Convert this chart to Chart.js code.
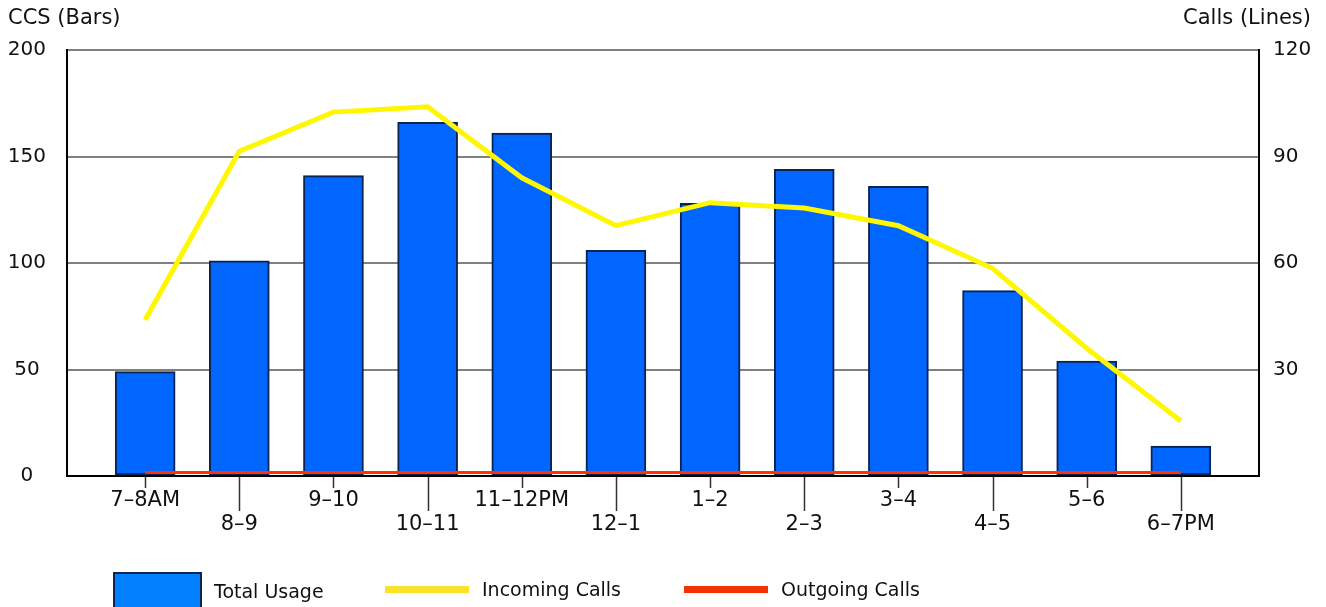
<!DOCTYPE html>
<html>
<head>
<meta charset="utf-8">
<script src="https://cdn.jsdelivr.net/npm/chart.js@4/dist/chart.umd.min.js"></script>
<style>
  html, body { margin: 0; padding: 0; background: #fff; }
  #wrap { width: 1326px; height: 607px; }
</style>
</head>
<body>
<div id="wrap"><canvas id="chart" width="1326" height="607"></canvas></div>
<script>
// Data
const categories = ['7\u20138AM', '8\u20139', '9\u201310', '10\u201311', '11\u201312PM', '12\u20131',
  '1\u20132', '2\u20133', '3\u20134', '4\u20135', '5\u20136', '6\u20137PM'];
const totalUsage = [49, 101, 141, 166, 161, 106, 128, 144, 136, 87, 54, 14];
const incomingCalls = [44, 91.5, 102.5, 104, 84, 70.5, 77, 75.5, 70.5, 58.5, 36, 15.5];
const outgoingCalls = [1, 1, 1, 1, 1, 1, 1, 1, 1, 1, 1, 1];
const ccsTicks = [0, 50, 100, 150, 200];
const callTicks = [0, 30, 60, 90, 120];

const toPoints = arr => arr.map((v, i) => ({ x: i, y: v }));

const FONT = '"DejaVu Sans", Verdana, sans-serif';
Chart.defaults.font.family = FONT;
Chart.defaults.font.size = 19;
Chart.defaults.color = '#111';

// axis titles, long/short ticks under the x axis, legend
const extras = {
  id: 'extras',
  afterDraw(chart) {
    const ctx = chart.ctx;
    const area = chart.chartArea;
    const x = chart.scales.x;
    ctx.save();

    // tick marks
    ctx.strokeStyle = '#333';
    ctx.lineWidth = 1.5;
    categories.forEach((c, i) => {
      const px = Math.round(x.getPixelForValue(i)) + 0.5;
      ctx.beginPath();
      ctx.moveTo(px, area.bottom + 1);
      ctx.lineTo(px, area.bottom + (i % 2 ? 35 : 12));
      ctx.stroke();
    });

    // axis titles
    ctx.fillStyle = '#111';
    ctx.font = '21px ' + FONT;
    ctx.textBaseline = 'middle';
    ctx.textAlign = 'left';
    ctx.fillText('CCS (Bars)', 8, 19);
    ctx.textAlign = 'right';
    ctx.fillText('Calls (Lines)', 1311, 19);

    // legend
    const byLabel = l => chart.data.datasets.find(d => d.label === l);
    ctx.font = '19px ' + FONT;
    ctx.textAlign = 'left';
    ctx.fillStyle = '#0080ff';
    ctx.fillRect(114, 573, 87, 40);
    ctx.strokeStyle = '#0b2550';
    ctx.lineWidth = 2;
    ctx.strokeRect(114, 573, 87, 40);
    ctx.fillStyle = '#111';
    ctx.fillText(byLabel('Total Usage').label, 214, 593);

    ctx.fillStyle = '#fbe427';
    ctx.fillRect(385, 586, 84, 7);
    ctx.fillStyle = '#111';
    ctx.fillText(byLabel('Incoming Calls').label, 482, 591);

    ctx.fillStyle = '#f53100';
    ctx.fillRect(684, 586, 84, 7);
    ctx.fillStyle = '#111';
    ctx.fillText(byLabel('Outgoing Calls').label, 781, 591);

    ctx.restore();
  }
};

const ctx = document.getElementById('chart').getContext('2d');
new Chart(ctx, {
  type: 'bar',
  data: {
    datasets: [
      {
        type: 'bar',
        label: 'Total Usage',
        data: toPoints(totalUsage),
        yAxisID: 'y',
        backgroundColor: '#0066ff',
        borderColor: '#0a2350',
        borderWidth: 2,
        borderSkipped: false,
        barThickness: 60,
        order: 3
      },
      {
        type: 'line',
        label: 'Incoming Calls',
        data: toPoints(incomingCalls),
        yAxisID: 'y1',
        borderColor: '#fff700',
        borderWidth: 5,
        pointRadius: 0,
        tension: 0,
        order: 1
      },
      {
        type: 'line',
        label: 'Outgoing Calls',
        data: toPoints(outgoingCalls),
        yAxisID: 'y1',
        borderColor: '#ff3300',
        borderWidth: 3,
        pointRadius: 0,
        tension: 0,
        order: 2
      }
    ]
  },
  options: {
    responsive: false,
    animation: false,
    layout: { padding: { top: 50, left: 0, right: 0, bottom: 0 } },
    plugins: {
      legend: { display: false },
      tooltip: { enabled: false }
    },
    scales: {
      x: {
        type: 'linear',
        offset: false,
        min: -0.83,
        max: 11.83,
        afterBuildTicks: s => { s.ticks = categories.map((c, i) => ({ value: i })); },
        afterFit: s => { s.height = 131; },
        grid: { display: false, drawTicks: false, offset: false },
        border: { display: true, color: '#000', width: 2 },
        ticks: {
          padding: 12,
          autoSkip: false,
          maxRotation: 0,
          font: { size: 21, lineHeight: 1.15 },
          callback: (v) => {
            const i = Math.round(v);
            return i % 2 ? ['', categories[i]] : categories[i];
          }
        }
      },
      y: {
        position: 'left',
        min: ccsTicks[0],
        max: ccsTicks[ccsTicks.length - 1],
        afterBuildTicks: s => { s.ticks = ccsTicks.map(v => ({ value: v })); },
        afterFit: s => { s.width = 67; },
        grid: {
          drawTicks: false,
          color: c => c.tick.value === 0 ? 'rgba(0,0,0,0)' : '#808080',
          lineWidth: 2
        },
        border: { display: true, color: '#000', width: 2 },
        ticks: { padding: 21, crossAlign: 'center', font: { size: 20 } }
      },
      y1: {
        position: 'right',
        min: callTicks[0],
        max: callTicks[callTicks.length - 1],
        afterBuildTicks: s => { s.ticks = callTicks.map(v => ({ value: v })); },
        afterFit: s => { s.width = 67; },
        grid: { display: false, drawTicks: false },
        border: { display: true, color: '#000', width: 2 },
        ticks: {
          padding: 14,
          font: { size: 20 },
          callback: v => v === 0 ? '' : v
        }
      }
    }
  },
  plugins: [extras]
});
</script>
</body>
</html>
